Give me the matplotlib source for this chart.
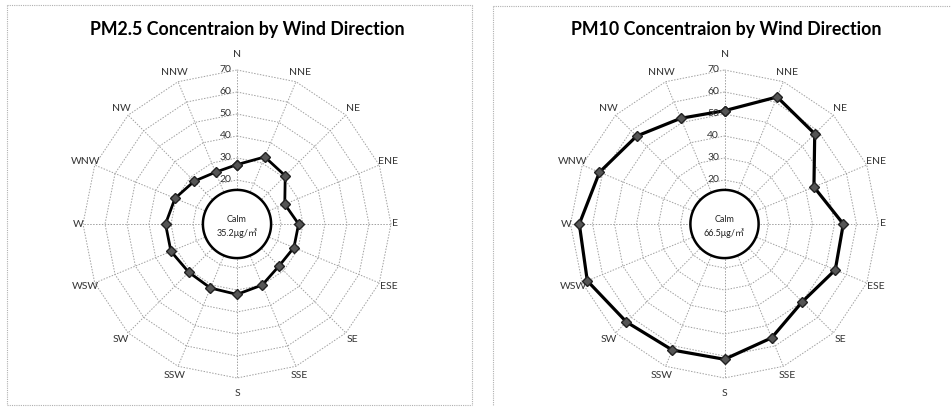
import numpy as np
import matplotlib
matplotlib.use('Agg')
import matplotlib.pyplot as plt
from matplotlib.lines import Line2D

plt.rcParams['font.family'] = ['Lato', 'Noto Sans CJK SC', 'DejaVu Sans']

directions = ['N', 'NNE', 'NE', 'ENE', 'E', 'ESE', 'SE', 'SSE',
              'S', 'SSW', 'SW', 'WSW', 'W', 'WNW', 'NW', 'NNW']
pm25 = [27, 33, 31, 23.5, 28, 28, 27, 30, 32, 31.5, 31, 32.5, 32.5, 30.5, 27.5, 25.5]
pm10 = [51.5, 62.5, 58, 44, 54, 54.5, 50, 56, 61.5, 62, 63, 67.5, 66, 61.5, 56.5, 52]
rings = [10, 20, 30, 40, 50, 60, 70]
ring_labels = [20, 30, 40, 50, 60, 70]
titles = ['PM2.5 Concentraion by Wind Direction', 'PM10 Concentraion by Wind Direction']
calm_values = ['35.2μg/㎥', '66.5μg/㎥']
calm_radius = 15.5

W, H = 951, 408
fig = plt.figure(figsize=(W / 100, H / 100), dpi=100)
fig.patch.set_facecolor('white')

# panel borders (pixel coords -> figure fraction)
def hline(x0, x1, y):
    fig.add_artist(Line2D([x0 / W, x1 / W], [1 - y / H, 1 - y / H], transform=fig.transFigure,
                          color='#b0b0b0', lw=0.8, ls=(0, (1, 1))))

def vline(x, y0, y1):
    fig.add_artist(Line2D([x / W, x / W], [1 - y0 / H, 1 - y1 / H], transform=fig.transFigure,
                          color='#b0b0b0', lw=0.8, ls=(0, (1, 1))))

hline(7, 472, 5); hline(7, 472, 405); vline(7, 5, 405); vline(472, 5, 405)
hline(493, 951, 6); vline(493, 6, 406)

centers = [(237, 224), (724.5, 224)]
title_x = [247, 726]
R = 154
th = np.arange(len(directions)) * 2 * np.pi / len(directions)
thc = np.append(th, th[0])

for k, vals in enumerate([pm25, pm10]):
    cx, cy = centers[k]
    ax = fig.add_axes([(cx - R) / W, (H - cy - R) / H, 2 * R / W, 2 * R / H], projection='polar')
    ax.set_theta_zero_location('N')
    ax.set_theta_direction(-1)
    ax.set_ylim(0, 70)
    ax.grid(False)
    ax.set_xticks([])
    ax.set_yticks([])
    ax.spines['polar'].set_visible(False)
    ax.patch.set_alpha(0)

    for r in rings:
        ax.plot(thc, [r] * len(thc), color='#a0a0a0', lw=0.7, ls=(0, (1.5, 1.5)), zorder=1, clip_on=False)
    for t in th:
        ax.plot([t, t], [0, 70], color='#a0a0a0', lw=0.7, ls=(0, (1.5, 1.5)), zorder=1, clip_on=False)

    tc = np.linspace(0, 2 * np.pi, 200)
    ax.fill(tc, [calm_radius] * len(tc), facecolor='white', edgecolor='black', lw=1.8, zorder=3)

    v = list(vals) + [vals[0]]
    ax.plot(thc, v, color='black', lw=2.0 if k == 0 else 2.3, marker='D', ms=5,
            mfc='#555555', mec='#222222', zorder=4, clip_on=False)

    for r in ring_labels:
        ax.annotate(str(r), xy=(0, r), xytext=(-4, 0), textcoords='offset points',
                    ha='right', va='center', fontsize=7.5, color='#333333', zorder=5)

    for t, d in zip(th, directions):
        c = np.cos(2 * t)
        rl = 74.5 + 2.5 * c if abs(abs(c) - 1) < 1e-6 else 74.5
        ax.text(t, rl, d, ha='center', va='center', fontsize=7.5, color='#333333')

    ax.annotate('Calm', xy=(0, 0), xytext=(0, 3), textcoords='offset points',
                ha='center', va='center', fontsize=6.5, color='#222222', zorder=6)
    ax.annotate(calm_values[k], xy=(0, 0), xytext=(0, -6.5), textcoords='offset points',
                ha='center', va='center', fontsize=6.5, color='#222222', zorder=6)

    fig.text(title_x[k] / W, 1 - 30 / H, titles[k], ha='center', va='center',
             fontsize=12.8, fontweight='bold', color='black')

fig.savefig('out.png', dpi=100)
